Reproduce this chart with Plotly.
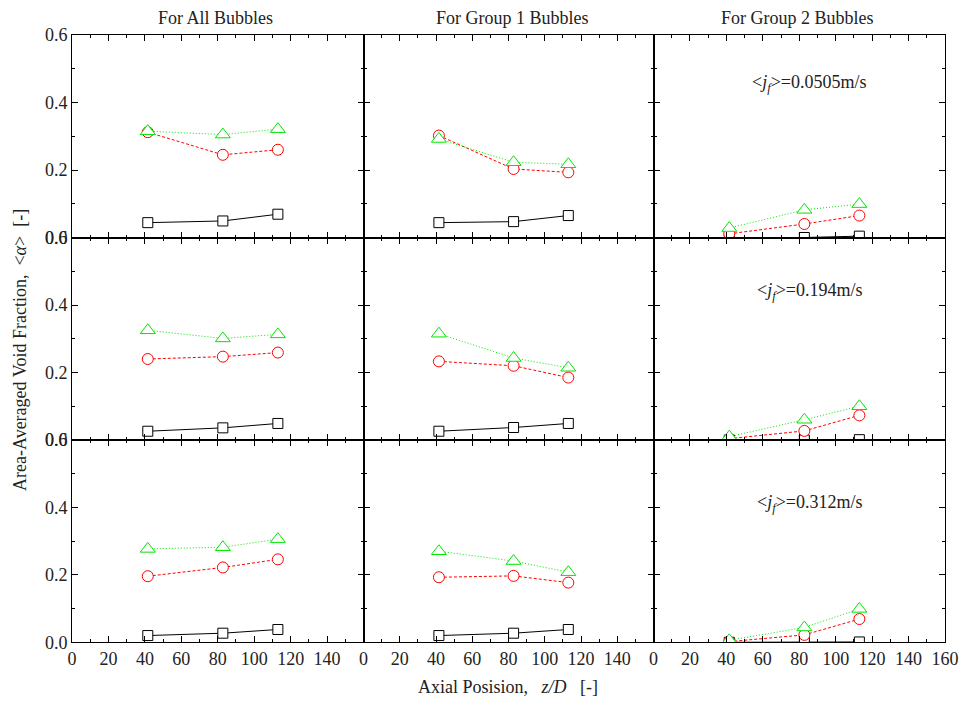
import plotly.graph_objects as go
from plotly.subplots import make_subplots

# ---- data ----
z_D = [41.6, 82.8, 113.0]
jf_labels = ["0.0505", "0.194", "0.312"]
col_titles = ["For All Bubbles", "For Group 1 Bubbles", "For Group 2 Bubbles"]

# row 1: <jf>=0.0505 m/s
sq_r1_all = [0.044, 0.049, 0.069]
ci_r1_all = [0.312, 0.245, 0.260]
tr_r1_all = [0.315, 0.305, 0.321]
sq_r1_g1 = [0.044, 0.047, 0.065]
ci_r1_g1 = [0.302, 0.203, 0.193]
tr_r1_g1 = [0.292, 0.223, 0.217]
sq_r1_g2 = [0.0, 0.0, 0.004]
ci_r1_g2 = [0.011, 0.040, 0.065]
tr_r1_g2 = [0.028, 0.082, 0.099]

# row 2: <jf>=0.194 m/s
sq_r2_all = [0.026, 0.036, 0.049]
ci_r2_all = [0.240, 0.247, 0.259]
tr_r2_all = [0.325, 0.301, 0.313]
sq_r2_g1 = [0.026, 0.037, 0.049]
ci_r2_g1 = [0.233, 0.220, 0.185]
tr_r2_g1 = [0.315, 0.243, 0.214]
sq_r2_g2 = [0.0, 0.0, 0.001]
ci_r2_g2 = [0.004, 0.027, 0.073]
tr_r2_g2 = [0.010, 0.060, 0.100]

# row 3: <jf>=0.312 m/s
sq_r3_all = [0.020, 0.027, 0.038]
ci_r3_all = [0.196, 0.222, 0.246]
tr_r3_all = [0.277, 0.282, 0.306]
sq_r3_g1 = [0.020, 0.027, 0.038]
ci_r3_g1 = [0.193, 0.197, 0.177]
tr_r3_g1 = [0.270, 0.241, 0.208]
sq_r3_g2 = [0.0, 0.0, 0.001]
ci_r3_g2 = [0.002, 0.022, 0.069]
tr_r3_g2 = [0.006, 0.044, 0.099]

panels = [
    [(sq_r1_all, ci_r1_all, tr_r1_all), (sq_r1_g1, ci_r1_g1, tr_r1_g1), (sq_r1_g2, ci_r1_g2, tr_r1_g2)],
    [(sq_r2_all, ci_r2_all, tr_r2_all), (sq_r2_g1, ci_r2_g1, tr_r2_g1), (sq_r2_g2, ci_r2_g2, tr_r2_g2)],
    [(sq_r3_all, ci_r3_all, tr_r3_all), (sq_r3_g1, ci_r3_g1, tr_r3_g1), (sq_r3_g2, ci_r3_g2, tr_r3_g2)],
]

W, H = 964, 705
FONT = "Liberation Serif"
TXT = "#222"

fig = make_subplots(rows=3, cols=3, horizontal_spacing=0, vertical_spacing=0)

styles = [
    ("square", "black", "solid", 10),
    ("circle", "red", "3px,2px", 11),
    ("triangle-up", "#00e600", "1px,2px", 13),
]

for r in range(3):
    for c in range(3):
        for vals, (sym, col, dash, size) in zip(panels[r][c], styles):
            fig.add_trace(go.Scatter(
                x=z_D, y=vals, mode="lines+markers",
                line=dict(color=col, width=1, dash=dash),
                marker=dict(symbol=sym, size=size, color="rgba(255,255,255,1)",
                            line=dict(color=col, width=1)),
                showlegend=False, cliponaxis=True, hoverinfo="skip",
            ), row=r + 1, col=c + 1)

xdom = [(72, 363.5), (363.5, 653.5), (653.5, 945)]
ypix = [(35, 237.5), (237.5, 440), (440, 642.3)]

for r in range(3):
    for c in range(3):
        fig.update_xaxes(
            domain=[xdom[c][0] / W, xdom[c][1] / W],
            range=[0, 160], automargin=False,
            tickvals=list(range(0, 161, 20)) if c == 2 else list(range(0, 141, 20)),
            showticklabels=(r == 2),
            ticks="inside", ticklen=6, tickwidth=1, tickcolor="black",
            minor=dict(ticks="inside", dtick=10, tick0=0, ticklen=3, tickcolor="black"),
            showline=True, linecolor="black", linewidth=1, mirror="allticks",
            showgrid=False, zeroline=False,
            tickfont=dict(family=FONT, size=18, color=TXT),
            row=r + 1, col=c + 1)
        fig.update_yaxes(
            domain=[1 - ypix[r][1] / H, 1 - ypix[r][0] / H],
            range=[0, 0.6], automargin=False,
            tickvals=[0, 0.2, 0.4, 0.6], tickformat=".1f",
            showticklabels=(c == 0),
            ticks="inside", ticklen=6, tickwidth=1, tickcolor="black",
            minor=dict(ticks="inside", dtick=0.1, tick0=0, ticklen=3, tickcolor="black"),
            showline=True, linecolor="black", linewidth=1, mirror="allticks",
            showgrid=False, zeroline=False,
            tickfont=dict(family=FONT, size=18, color=TXT),
            row=r + 1, col=c + 1)

annotations = []
title_x = [215, 512, 797]
for c in range(3):
    annotations.append(dict(x=title_x[c] / W, y=1 - 18 / H, xref="paper", yref="paper",
                            xanchor="center", yanchor="middle",
                            text=col_titles[c], showarrow=False,
                            font=dict(family=FONT, size=18, color=TXT)))
jf_y = [83, 292, 503]
for r in range(3):
    annotations.append(dict(x=809 / W, y=1 - jf_y[r] / H, xref="paper", yref="paper",
                            xanchor="center", yanchor="middle",
                            text="&lt;<i>j</i><sub><i>f</i></sub>&gt;=" + jf_labels[r] + "m/s",
                            showarrow=False,
                            font=dict(family=FONT, size=18, color=TXT)))
annotations.append(dict(x=20 / W, y=1 - 350 / H, xref="paper", yref="paper",
                        xanchor="center", yanchor="middle",
                        text="Area-Averaged Void Fraction,  &lt;<i>α</i>&gt;  [-]",
                        textangle=-90, showarrow=False,
                        font=dict(family=FONT, size=18, color=TXT)))
annotations.append(dict(x=508 / W, y=1 - 687 / H, xref="paper", yref="paper",
                        xanchor="center", yanchor="middle",
                        text="Axial Posision,   <i>z/D</i>   [-]", showarrow=False,
                        font=dict(family=FONT, size=18, color=TXT)))

fig.update_layout(
    template="none",
    width=W, height=H,
    margin=dict(l=0, r=0, t=0, b=0, pad=0, autoexpand=False),
    paper_bgcolor="white", plot_bgcolor="white",
    annotations=annotations,
    showlegend=False,
)

fig.write_html("out.html")
